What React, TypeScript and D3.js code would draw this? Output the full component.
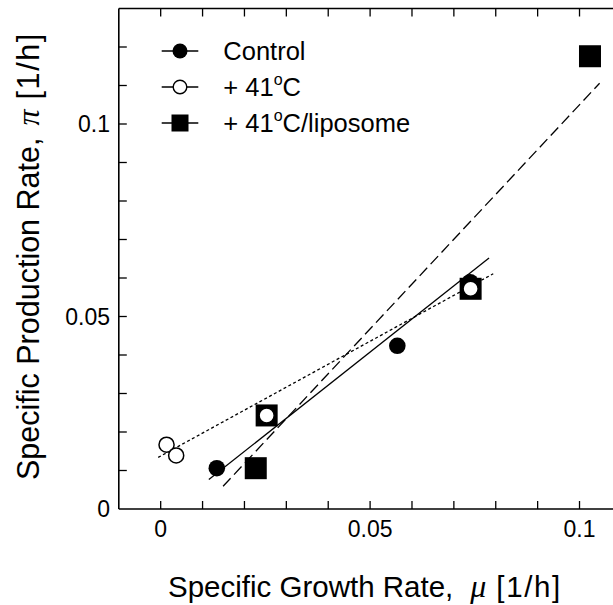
// scatter of specific production rate vs specific growth rate, with fitted lines
import * as d3 from 'd3';
import React from 'react';

// data
const controlMu = [0.0134, 0.0565, 0.0739];
const controlPi = [0.0106, 0.0424, 0.0589];
const heatMu = [0.0014, 0.0037, 0.0253, 0.074];
const heatPi = [0.0167, 0.0139, 0.0243, 0.0572];
const liposomeMu = [0.0227, 0.0253, 0.074, 0.1025];
const liposomePi = [0.0106, 0.0243, 0.0572, 0.1176];

// fitted line end points
const controlFitMu = [0.0115, 0.0784];
const controlFitPi = [0.00765, 0.0652];
const heatFitMu = [-0.0006, 0.0794];
const heatFitPi = [0.0134, 0.0611];
const liposomeFitMu = [0.0149, 0.1048];
const liposomeFitPi = [0.0059, 0.1106];

const xTicks = [0, 0.05, 0.1];
const xTickLabels = ['0', '0.05', '0.1'];
const yTicks = [0, 0.05, 0.1];
const yTickLabels = ['0', '0.05', '0.1'];

const FONT = '"Liberation Sans", Arial, Helvetica, sans-serif';
const GREEK = '"Liberation Serif", "DejaVu Serif", serif';

const App = () => {
  const W = 613;
  const H = 605;

  // plot box
  const x = d3.scaleLinear().domain([-0.01, 0.11]).range([118.8, 621.4]);
  const y = d3.scaleLinear().domain([0, 0.13]).range([509, 8.5]);

  const [x0, x1] = x.range();
  const [y0, y1] = y.range();
  const tickLen = 8;

  const xMinor = d3.range(0, 0.1001, 0.01);
  const yMinor = d3.range(0.01, 0.1201, 0.01);

  const line = d3
    .line<[number, number]>()
    .x((d) => x(d[0]))
    .y((d) => y(d[1]));

  const fitPath = (mu: number[], pi: number[]) =>
    line(mu.map((m, i) => [m, pi[i]] as [number, number])) || '';

  const R = 8.3; // marker circle radius
  const S = 22; // marker square side

  const squares = (mus: number[], pis: number[]) =>
    mus.map((m, i) => (
      <rect
        key={'s' + i}
        x={x(m) - S / 2}
        y={y(pis[i]) - S / 2}
        width={S}
        height={S}
        fill="black"
      />
    ));

  const circles = (mus: number[], pis: number[], filled: boolean) =>
    mus.map((m, i) => (
      <circle
        key={(filled ? 'f' : 'o') + i}
        cx={x(m)}
        cy={y(pis[i])}
        r={filled ? R : R - 0.75}
        fill={filled ? 'black' : 'white'}
        stroke="black"
        strokeWidth={filled ? 0 : 1.5}
      />
    ));

  // legend rows
  const legendRows = [51, 87, 123];
  const lgX0 = 161.7;
  const lgX1 = 198.3;
  const lgMid = 180;
  const lgText = 223.3;

  return (
    <svg
      width={W}
      height={H}
      style={{ position: 'absolute', left: 0, top: 0, background: 'white' }}
      fontFamily={FONT}
    >
      <rect x={0} y={0} width={W} height={H} fill="white" />

      {/* fitted lines */}
      <path
        d={fitPath(controlFitMu, controlFitPi)}
        stroke="black"
        strokeWidth={1.3}
        fill="none"
      />
      <path
        d={fitPath(heatFitMu, heatFitPi)}
        stroke="black"
        strokeWidth={1.3}
        strokeDasharray="3,2.5"
        fill="none"
      />
      <path
        d={fitPath(liposomeFitMu, liposomeFitPi)}
        stroke="black"
        strokeWidth={1.3}
        strokeDasharray="11,5"
        fill="none"
      />

      {/* markers */}
      {squares(liposomeMu, liposomePi)}
      {circles(controlMu, controlPi, true)}
      {circles(heatMu, heatPi, false)}

      {/* frame */}
      <g stroke="black" strokeWidth={1.6} fill="none">
        <line x1={x0} x2={x1} y1={y0} y2={y0} />
        <line x1={x0} x2={x1} y1={y1} y2={y1} />
        <line x1={x0} x2={x0} y1={y0} y2={y1} />
        <line x1={x1} x2={x1} y1={y0} y2={y1} />
      </g>

      {/* ticks, pointing inward on all sides */}
      <g stroke="black" strokeWidth={1.3}>
        {xMinor.map((v, i) => (
          <g key={'xt' + i}>
            <line x1={x(v)} x2={x(v)} y1={y0} y2={y0 - tickLen} />
            <line x1={x(v)} x2={x(v)} y1={y1} y2={y1 + tickLen} />
          </g>
        ))}
        {yMinor.map((v, i) => (
          <g key={'yt' + i}>
            <line x1={x0} x2={x0 + tickLen} y1={y(v)} y2={y(v)} />
            <line x1={x1} x2={x1 - tickLen} y1={y(v)} y2={y(v)} />
          </g>
        ))}
      </g>

      {/* tick labels */}
      <g fontSize={23} fill="black">
        {xTicks.map((v, i) => (
          <text key={'xl' + i} x={x(v)} y={537} textAnchor="middle">
            {xTickLabels[i]}
          </text>
        ))}
        {yTicks.map((v, i) => (
          <text key={'yl' + i} x={110} y={y(v) + 8.3} textAnchor="end">
            {yTickLabels[i]}
          </text>
        ))}
      </g>

      {/* axis titles */}
      <text x={168} y={596.5} fontSize={29.5} fill="black">
        Specific Growth Rate,
        <tspan dx={17} fontFamily={GREEK} fontStyle="italic" fontSize={32}>
          μ
        </tspan>
        <tspan dx={10} letterSpacing={1.6}>
          [1/h]
        </tspan>
      </text>
      <text
        transform="translate(38.5,480) rotate(-90)"
        x={0}
        y={0}
        fontSize={30.5}
        fill="black"
      >
        Specific Production Rate,
        <tspan dx={12} fontFamily={GREEK} fontStyle="italic" fontSize={32}>
          π
        </tspan>
        <tspan dx={10} letterSpacing={1.6}>
          [1/h]
        </tspan>
      </text>

      {/* legend */}
      <g stroke="black" strokeWidth={1.3}>
        {legendRows.map((ry, i) => (
          <line key={'ll' + i} x1={lgX0} x2={lgX1} y1={ry} y2={ry} />
        ))}
      </g>
      <circle cx={lgMid} cy={legendRows[0]} r={7.5} fill="black" />
      <circle
        cx={lgMid}
        cy={legendRows[1]}
        r={6.8}
        fill="white"
        stroke="black"
        strokeWidth={1.4}
      />
      <rect
        x={lgMid - 8.5}
        y={legendRows[2] - 8.5}
        width={17}
        height={17}
        fill="black"
      />
      <g fontSize={25.5} fill="black">
        <text x={lgText} y={legendRows[0] + 9}>
          Control
        </text>
        <text x={lgText} y={legendRows[1] + 9}>
          + 41
          <tspan fontSize={16} dy={-11}>
            o
          </tspan>
          <tspan dy={11}>C</tspan>
        </text>
        <text x={lgText} y={legendRows[2] + 9}>
          + 41
          <tspan fontSize={16} dy={-11}>
            o
          </tspan>
          <tspan dy={11}>C/liposome</tspan>
        </text>
      </g>
    </svg>
  );
};

export default App;
